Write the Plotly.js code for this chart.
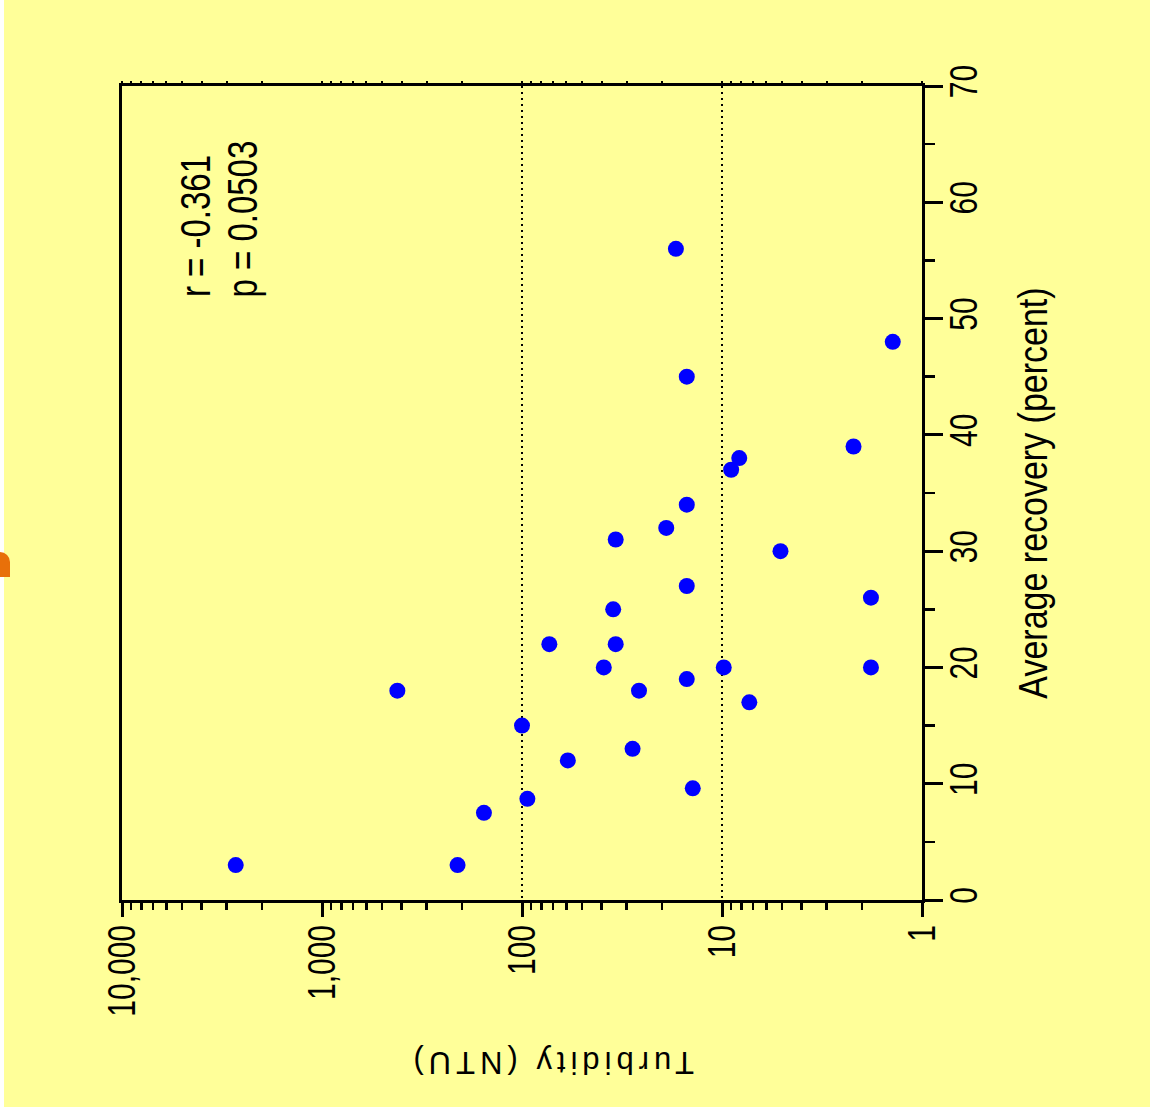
<!DOCTYPE html>
<html>
<head>
<meta charset="utf-8">
<script src="https://cdn.plot.ly/plotly-3.0.1.min.js"></script>
<style>
  html, body { margin: 0; padding: 0; background: #ffffff; width: 1150px; height: 1117px; overflow: hidden; }
  #chart { position: absolute; left: 4px; top: 0; width: 1146px; height: 1107px; }
  #blob { position: absolute; left: 0; top: 552px; width: 10px; height: 25px; background: #e8700a; border-radius: 0 12px 0 0; z-index: 5; }
</style>
</head>
<body>
<div id="chart"></div>
<div id="blob"></div>
<script>
// Data
const turbidity = [2700, 420, 210, 155, 100, 94, 73, 59, 39, 28, 26, 35, 34, 34, 19, 17, 15, 15, 15, 15, 14, 9.8, 9.0, 8.2, 7.3, 5.1, 2.2, 1.8, 1.8, 1.4];
const recovery  = [3, 18, 3, 7.5, 15, 8.7, 22, 12, 20, 13, 18, 25, 22, 31, 32, 56, 45, 34, 27, 19, 9.6, 20, 37, 38, 17, 30, 39, 26, 20, 48];

const xTickVals = [1, 10, 100, 1000, 10000];
const xTickText = ["1", "10", "100", "1,000", "10,000"];
const gridVals = [10, 100];
const yTickVals = [0, 10, 20, 30, 40, 50, 60, 70];

const xTitle = "Turbidity (NTU)";
const yTitle = "Average recovery (percent)";
const statR = "r = -0.361";
const statP = "p = 0.0503";

const sans = '"Liberation Sans", Arial, Helvetica, sans-serif';
const bg = '#ffff99';

const traces = [
  {
    x: turbidity, y: recovery, type: 'scatter', mode: 'markers',
    marker: { color: '#0000ff', size: 16, line: { width: 0 } },
    xaxis: 'x', yaxis: 'y', hoverinfo: 'x+y'
  },
  {
    x: turbidity, y: recovery, type: 'scatter', mode: 'markers',
    marker: { opacity: 0, size: 1 }, xaxis: 'x2', yaxis: 'y', hoverinfo: 'skip', showlegend: false
  },
  {
    x: turbidity, y: recovery, type: 'scatter', mode: 'markers',
    marker: { opacity: 0, size: 1 }, xaxis: 'x3', yaxis: 'y', hoverinfo: 'skip', showlegend: false
  }
];

const layout = {
  width: 1146, height: 1107,
  margin: { l: 118, r: 228, t: 86, b: 207 },
  paper_bgcolor: bg, plot_bgcolor: bg,
  showlegend: false,
  font: { family: sans, color: '#000000' },
  xaxis: {
    type: 'log', range: [4, 0], autorange: false,
    tickmode: 'array', tickvals: xTickVals, ticktext: xTickText,
    tickangle: -90, ticklabelstandoff: -4,
    ticks: 'outside', ticklen: 14, tickwidth: 3, tickcolor: '#000',
    minor: { dtick: 'D1', ticks: 'outside', ticklen: 7, tickwidth: 2.5, tickcolor: '#000', showgrid: false },
    showline: true, linewidth: 3, linecolor: '#000', mirror: true,
    showgrid: false, zeroline: false,
    tickfont: { family: sans, size: 30, color: '#000' }
  },
  xaxis2: {
    type: 'log', range: [4, 0], autorange: false, overlaying: 'x', side: 'top', anchor: 'y',
    tickmode: 'array', tickvals: xTickVals,
    ticks: 'outside', ticklen: 4, tickwidth: 2, tickcolor: '#000',
    minor: { dtick: 'D1', ticks: 'outside', ticklen: 4, tickwidth: 2, tickcolor: '#000', showgrid: false },
    showticklabels: false, showline: false, showgrid: false, zeroline: false
  },
  xaxis3: {
    type: 'log', range: [4, 0], autorange: false, overlaying: 'x', anchor: 'y',
    tickmode: 'array', tickvals: gridVals,
    ticks: '', showticklabels: false, showline: false,
    showgrid: true, gridcolor: '#000', gridwidth: 2, griddash: '2px,4px', zeroline: false
  },
  yaxis: {
    range: [0, 70], autorange: false, side: 'right',
    tickmode: 'array', tickvals: yTickVals,
    tickangle: -90, ticklabelstandoff: -5,
    ticks: 'outside', ticklen: 18, tickwidth: 3, tickcolor: '#000',
    minor: { dtick: 5, ticks: 'outside', ticklen: 10, tickwidth: 2.5, tickcolor: '#000', showgrid: false },
    showline: true, linewidth: 3, linecolor: '#000', mirror: true,
    showgrid: false, zeroline: false,
    tickfont: { family: sans, size: 30, color: '#000' },
    title: { text: yTitle, font: { family: sans, size: 34, color: '#000' }, standoff: 42 }
  },
  annotations: [
    {
      text: statR, xref: 'paper', yref: 'paper', x: 0.091, y: 0.738,
      xanchor: 'center', yanchor: 'bottom', textangle: -90, showarrow: false,
      font: { family: sans, size: 33, color: '#000' }
    },
    {
      text: statP, xref: 'paper', yref: 'paper', x: 0.151, y: 0.738,
      xanchor: 'center', yanchor: 'bottom', textangle: -90, showarrow: false,
      font: { family: sans, size: 33, color: '#000' }
    },
    {
      text: xTitle, xref: 'paper', yref: 'paper', x: 0.536, y: -0.199,
      xanchor: 'center', yanchor: 'middle', textangle: 180, showarrow: false,
      font: { family: sans, size: 31, color: '#000' }
    }
  ]
};

// stretch glyph height (text's own vertical direction) about the text's centre
function stretchText(el, s) {
  const b = el.getBBox();
  const cx = b.x + b.width / 2, cy = b.y + b.height / 2;
  const old = el.getAttribute('transform') || '';
  el.setAttribute('transform', old + ' translate(' + cx + ',' + cy + ') scale(1,' + s + ') translate(' + (-cx) + ',' + (-cy) + ')');
}

Plotly.newPlot('chart', traces, layout, { displayModeBar: false, staticPlot: true }).then(function (gd) {
  gd.querySelectorAll('.xtick text, .ytick text').forEach(function (t) { stretchText(t, 1.3); });
  gd.querySelectorAll('.ytitle').forEach(function (t) { stretchText(t, 1.2); });
  gd.querySelectorAll('.annotation-text').forEach(function (t) {
    if (t.textContent.indexOf('Turbidity') === 0) {
      t.style.letterSpacing = '5px';
    } else {
      stretchText(t, 1.27);
    }
  });
});
</script>
</body>
</html>
